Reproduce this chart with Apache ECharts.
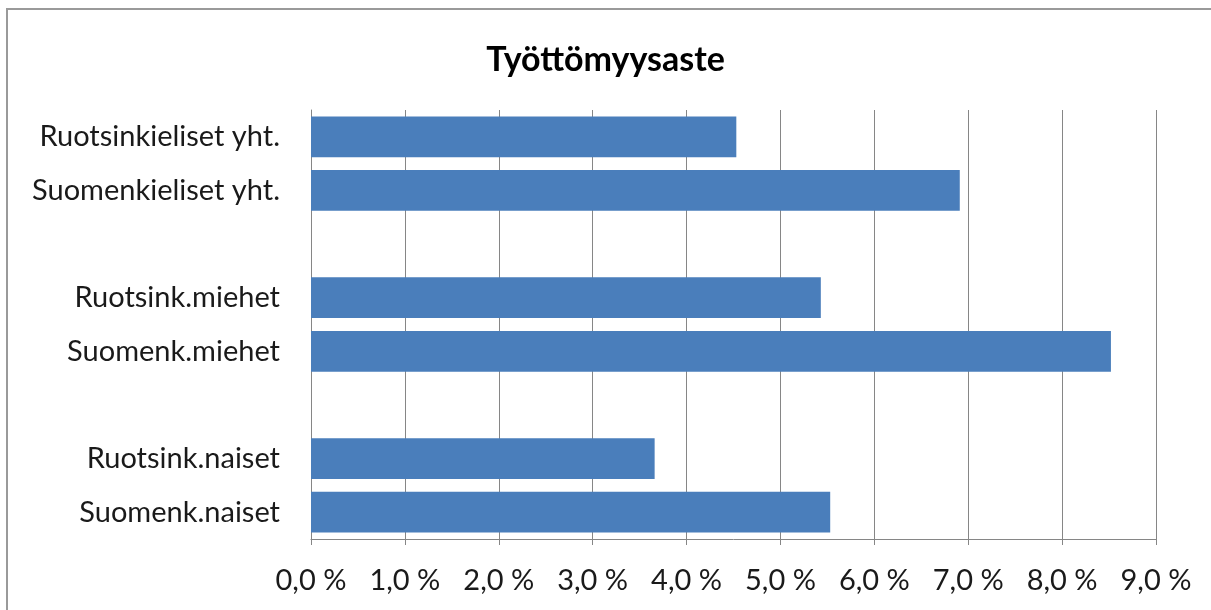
<!DOCTYPE html>
<html>
<head>
<meta charset="utf-8">
<script src="https://cdn.jsdelivr.net/npm/echarts@6/dist/echarts.min.js"></script>
<style>html,body{margin:0;padding:0;background:#fff;}#c{width:1211px;height:610px;}</style>
</head>
<body>
<div id="c"></div>
<script>
const categories = ['Ruotsinkieliset yht.', 'Suomenkieliset yht.', '', 'Ruotsink.miehet', 'Suomenk.miehet', '', 'Ruotsink.naiset', 'Suomenk.naiset'];
const values = [4.53, 6.91, null, 5.43, 8.52, null, 3.66, 5.53];
const xTicks = [0, 1, 2, 3, 4, 5, 6, 7, 8, 9];
const titleText = 'Työttömyysaste';

const FONT = 'Lato';
const chart = echarts.init(document.getElementById('c'), null, {renderer: 'canvas'});
chart.setOption({
  backgroundColor: '#ffffff',
  animation: false,
  title: {
    text: titleText,
    left: 'center',
    top: 38,
    textStyle: {fontFamily: FONT, fontWeight: 'bold', fontSize: 34, color: '#000000'}
  },
  graphic: [{
    type: 'rect',
    shape: {x: 7, y: 9, width: 1230, height: 640},
    style: {fill: 'none', stroke: '#9a9a9a', lineWidth: 2},
    silent: true
  }],
  grid: {left: 311, right: 55, top: 110, bottom: 71, containLabel: false},
  xAxis: {
    type: 'value',
    min: xTicks[0],
    max: xTicks[xTicks.length - 1],
    interval: 1,
    axisLine: {show: true, lineStyle: {color: '#868686', width: 1}},
    axisTick: {show: true, length: 6, lineStyle: {color: '#868686'}},
    splitLine: {show: true, lineStyle: {color: '#868686', width: 1}},
    axisLabel: {
      margin: 27,
      fontFamily: FONT,
      fontSize: 29,
      color: '#1a1a1a',
      formatter: v => v.toFixed(1).replace('.', ',') + ' %'
    }
  },
  yAxis: {
    type: 'category',
    data: categories,
    inverse: true,
    axisLine: {show: true, lineStyle: {color: '#868686', width: 1}},
    axisTick: {show: false},
    axisLabel: {margin: 31, fontFamily: FONT, fontSize: 29, color: '#1a1a1a'}
  },
  series: [{
    type: 'bar',
    data: values,
    barCategoryGap: '24%',
    itemStyle: {color: '#4a7ebb'}
  }]
});
</script>
</body>
</html>
